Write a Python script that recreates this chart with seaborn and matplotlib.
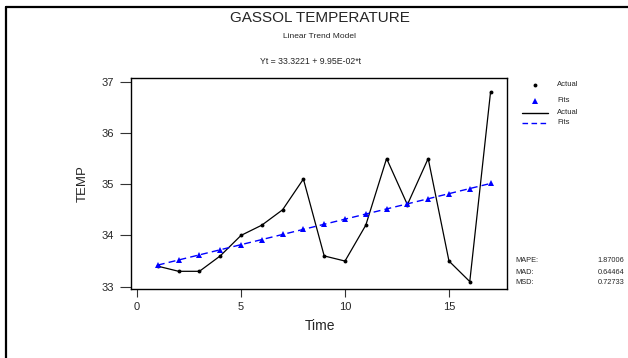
import matplotlib
matplotlib.use("Agg")
import matplotlib.pyplot as plt
from matplotlib.lines import Line2D
import pandas as pd
import seaborn as sns

# Time index and observed temperatures
time = list(range(1, 18))
actual = [33.4, 33.3, 33.3, 33.6, 34.0, 34.2, 34.5, 35.1, 33.6,
          33.5, 34.2, 35.5, 34.6, 35.5, 33.5, 33.1, 36.8]
# Fitted values of the linear trend Yt = 33.3221 + 0.0995*t
fits = [33.4216, 33.5211, 33.6206, 33.7201, 33.8196, 33.9191, 34.0186,
        34.1181, 34.2176, 34.3171, 34.4166, 34.5161, 34.6156, 34.7151,
        34.8146, 34.9141, 35.0136]

x_ticks = [0, 5, 10, 15]
y_ticks = [33, 34, 35, 36, 37]

stat_names = ["MAPE:", "MAD:", "MSD:"]
stat_values = ["1.87006", "0.64464", "0.72733"]

df = pd.DataFrame({"Time": time, "Actual": actual, "Fits": fits})

sns.set_style("white")
FONT = ["Liberation Sans Narrow", "Liberation Sans", "DejaVu Sans"]
plt.rcParams["font.family"] = FONT

W, H = 628, 358
fig = plt.figure(figsize=(W / 100, H / 100), dpi=100)
fig.patch.set_facecolor("white")

# axes box in pixel terms
left, right, top, bottom = 131, 507, 78, 289
ax = fig.add_axes([left / W, 1 - bottom / H, (right - left) / W, (bottom - top) / H])

sns.lineplot(data=df, x="Time", y="Actual", ax=ax, color="black", lw=0.9,
             marker="o", markersize=2.8, markeredgewidth=0, zorder=3)
sns.lineplot(data=df, x="Time", y="Fits", ax=ax, color="#0000ff", lw=1.0,
             linestyle=(0, (5, 3)), marker="^", markersize=4.4,
             markeredgewidth=0, zorder=4)

ax.set_xlim(-0.29, 17.79)
ax.set_ylim(32.955, 37.07)
ax.set_xticks(x_ticks)
ax.set_yticks(y_ticks)
ax.tick_params(axis="both", direction="out", width=0.8, color="#333333",
               labelsize=8, left=True, bottom=True)
ax.tick_params(axis="y", length=8, pad=4)
ax.tick_params(axis="x", length=5.5, pad=3.5)
for s in ax.spines.values():
    s.set_color("black")
    s.set_linewidth(1.0)

ax.set_xlabel("Time", fontsize=10, va="center")
ax.set_ylabel("TEMP", fontsize=9.5, va="center")
ax.xaxis.set_label_coords((320 - left) / (right - left), -(326 - bottom) / (bottom - top))
ax.yaxis.set_label_coords(-(left - 83) / (right - left), 0.5)

# titles
fig.text(320 / W, 1 - 18 / H, "GASSOL TEMPERATURE", ha="center", va="center", fontsize=11)
fig.text(319 / W, 1 - 37 / H, "Linear Trend Model", ha="center", va="center", fontsize=6)
fig.text(310 / W, 1 - 61 / H, "Yt = 33.3221 + 9.95E-02*t", ha="center", va="center", fontsize=6.3)

# legend entries to the right of the plot
lx, tx = 535, 557
fig.add_artist(Line2D([lx / W], [1 - 85 / H], marker="o", color="black",
                      markersize=2.8, markeredgewidth=0, linestyle="none"))
fig.add_artist(Line2D([lx / W], [1 - 101 / H], marker="^", color="#0000ff",
                      markersize=4.4, markeredgewidth=0, linestyle="none"))
fig.add_artist(Line2D([522 / W, 548 / W], [1 - 113 / H] * 2, color="black", lw=1.0))
fig.add_artist(Line2D([522 / W, 548 / W], [1 - 123 / H] * 2, color="#0000ff",
                      lw=1.0, linestyle=(0, (4, 2.5))))
for y, lab in zip([85, 101, 113, 123], ["Actual", "Fits", "Actual", "Fits"]):
    fig.text(tx / W, 1 - y / H, lab, ha="left", va="center", fontsize=5.5)

# accuracy measures
for y, name, val in zip([261, 272, 283], stat_names, stat_values):
    fig.text(515 / W, 1 - y / H, name, ha="left", va="center", fontsize=5.3)
    fig.text(624 / W, 1 - y / H, val, ha="right", va="center", fontsize=5.3)

# outer frame (top and left edges)
fig.add_artist(Line2D([6 / W, 6 / W], [1 - 7 / H, 0], color="black", lw=1.6))
fig.add_artist(Line2D([6 / W, 1], [1 - 7 / H, 1 - 7 / H], color="black", lw=1.6))

fig.savefig("out.png", dpi=100, facecolor="white")
